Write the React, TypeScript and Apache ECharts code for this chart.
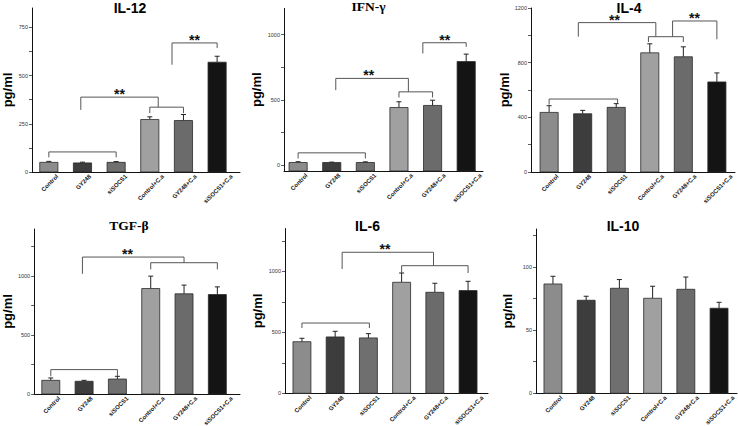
import React, { useEffect, useRef } from 'react';
import * as echarts from 'echarts';

// ---------- data ----------
const categories = ['Control', 'GY248', 'siSOCS1', 'Control+C.a', 'GY248+C.a', 'siSOCS1+C.a'];

const il12Mean = [50, 47, 50, 272, 267, 569];
const il12Err = [5, 4, 4, 14, 31, 31];
const ifnMean = [20, 20, 20, 441, 457, 793];
const ifnErr = [6, 3, 5, 44, 40, 57];
const il4Mean = [436, 426, 473, 872, 843, 659];
const il4Err = [49, 25, 27, 66, 73, 66];
const tgfMean = [116, 108, 127, 895, 850, 844];
const tgfErr = [20, 8, 23, 105, 74, 65];
const il6Mean = [423, 462, 454, 910, 828, 842];
const il6Err = [28, 46, 35, 76, 74, 76];
const il10Mean = [86.5, 73.6, 83.1, 75.2, 82.3, 67.3];
const il10Err = [6.1, 3.2, 6.9, 9.5, 9.7, 4.7];

// brackets: [fromCategory, toCategory, level, leftLegEnd, rightLegEnd]
const il12Brackets = [[0, 2, 104, 76, 76], [0.95, 3.25, 388, 322, 336], [3, 4, 336, 305, 305], [3.66, 5, 669, 556, 643]];
const ifnBrackets = [[0, 2, 94, 51, 51], [1.12, 3.28, 664, 574, 561], [3, 4, 561, 518, 518], [3.71, 5, 937, 855, 906]];
const il4Brackets = [[0, 2.04, 534, 493, 505], [0.87, 3.18, 1093, 990, 990], [2.96, 4, 990, 951, 951], [3.68, 5, 1105, 990, 971]];
const tgfBrackets = [[0, 2, 207, 150, 150], [0.95, 4, 1162, 1020, 1114], [3, 5, 1114, 1057, 1057]];
const il6Brackets = [[0, 2.03, 576, 535, 535], [1.21, 3.96, 1156, 1019, 1046], [3, 5, 1046, 986, 986]];
const il10Brackets: number[][] = [];

// significance marks: [category position, bracket level]
const il12Stars = [[2.1, 388], [4.33, 669]];
const ifnStars = [[2.1, 664], [4.36, 937]];
const il4Stars = [[1.95, 1093], [4.33, 1105]];
const tgfStars = [[2.3, 1162]];
const il6Stars = [[2.5, 1156]];
const il10Stars: number[][] = [];

// tick labels / tick marks
const il12TickLabels = [0, 250, 500, 750];
const il12Ticks = [0, 125, 250, 375, 500, 625, 750];
const ifnTickLabels = [0, 500, 1000];
const ifnTicks = [0, 250, 500, 750, 1000];
const il4TickLabels = [0, 400, 800, 1200];
const il4Ticks = [0, 200, 400, 600, 800, 1000, 1200];
const tgfTickLabels = [0, 500, 1000];
const tgfTicks = [0, 250, 500, 750, 1000, 1250];
const il6TickLabels = [0, 500, 1000];
const il6Ticks = [0, 250, 500, 750, 1000, 1250];
const il10TickLabels = [0, 50, 100];
const il10Ticks = [0, 25, 50, 75, 100, 125];

// ---------- style ----------
const barColors = ['#8c8c8c', '#3d3d3d', '#6f6f6f', '#a0a0a0', '#6b6b6b', '#141414'];
const SANS = '"Liberation Sans", Arial, sans-serif';
const SERIF = '"Liberation Serif", "Times New Roman", serif';
const LABEL_FS = 6;

const panels = [
  { title: 'IL-12', serif: false, mean: il12Mean, err: il12Err, brackets: il12Brackets, stars: il12Stars,
    yMin: 0, yMax: 850, labels: il12TickLabels, ticks: il12Ticks, xMin: -0.5, xMax: 5.68,
    grid: { left: 32, top: 8, width: 208, height: 164 }, tx: 130, ty: 7.5, nameGap: 18 },
  { title: 'IFN-γ', serif: true, mean: ifnMean, err: ifnErr, brackets: ifnBrackets, stars: ifnStars,
    yMin: -45, yMax: 1200, labels: ifnTickLabels, ticks: ifnTicks, xMin: -0.42, xMax: 5.5,
    grid: { left: 284, top: 8.4, width: 199, height: 162.6 }, tx: 368.5, ty: 6.5, nameGap: 21 },
  { title: 'IL-4', serif: false, mean: il4Mean, err: il4Err, brackets: il4Brackets, stars: il4Stars,
    yMin: 0, yMax: 1200, labels: il4TickLabels, ticks: il4Ticks, xMin: -0.54, xMax: 5.54,
    grid: { left: 531, top: 8, width: 204, height: 164 }, tx: 629, ty: 7.5, nameGap: 20 },
  { title: 'TGF-β', serif: true, mean: tgfMean, err: tgfErr, brackets: tgfBrackets, stars: tgfStars,
    yMin: 0, yMax: 1400, labels: tgfTickLabels, ticks: tgfTicks, xMin: -0.5, xMax: 5.68,
    grid: { left: 32, top: 229, width: 208, height: 165 }, tx: 129, ty: 225.5, nameGap: 18 },
  { title: 'IL-6', serif: false, mean: il6Mean, err: il6Err, brackets: il6Brackets, stars: il6Stars,
    yMin: 0, yMax: 1350, labels: il6TickLabels, ticks: il6Ticks, xMin: -0.51, xMax: 5.6,
    grid: { left: 285, top: 228.6, width: 203, height: 164.7 }, tx: 367.5, ty: 225.5, nameGap: 21 },
  { title: 'IL-10', serif: false, mean: il10Mean, err: il10Err, brackets: il10Brackets, stars: il10Stars,
    yMin: 0, yMax: 130, labels: il10TickLabels, ticks: il10Ticks, xMin: -0.51, xMax: 5.54,
    grid: { left: 536, top: 229, width: 201, height: 164.3 }, tx: 623, ty: 225.5, nameGap: 22 },
];

let measureCtx: CanvasRenderingContext2D | null = null;
function textWidth(t: string, font: string, fs: number) {
  if (!measureCtx) {
    const c = document.createElement('canvas');
    measureCtx = c.getContext('2d');
  }
  if (!measureCtx) return t.length * fs * 0.56;
  measureCtx.font = font;
  return measureCtx.measureText(t).width;
}

function buildOption() {
  const grids: any[] = [];
  const xAxes: any[] = [];
  const yAxes: any[] = [];
  const series: any[] = [];
  const graphics: any[] = [];

  panels.forEach((p, k) => {
    grids.push({ ...p.grid, containLabel: false });
    xAxes.push({
      gridIndex: k, type: 'value', min: p.xMin, max: p.xMax,
      axisLine: { show: true, onZero: false, lineStyle: { color: '#111', width: 1 } },
      axisTick: { show: false }, axisLabel: { show: false }, splitLine: { show: false },
    });
    yAxes.push({
      gridIndex: k, type: 'value', min: p.yMin, max: p.yMax,
      axisLine: { show: true, onZero: false, lineStyle: { color: '#111', width: 1 } },
      axisTick: { show: true, length: 3, inside: false, customValues: p.ticks, lineStyle: { color: '#333', width: 0.8 } },
      axisLabel: {
        show: true, customValues: p.labels, fontSize: 5.5, margin: 4, color: '#333', fontFamily: SANS,
        formatter: (v: number) => String(v),
      },
      splitLine: { show: false },
      name: 'pg/ml', nameLocation: 'middle', nameGap: p.nameGap,
      nameTextStyle: { fontSize: 13, fontWeight: 'bold', color: '#000', fontFamily: SANS },
    });

    graphics.push({
      type: 'text', x: p.tx, y: p.ty,
      style: {
        text: p.title, fill: '#000',
        fontSize: p.serif ? 13.5 : 14, fontWeight: 'bold', fontFamily: p.serif ? SERIF : SANS,
        align: 'center', verticalAlign: 'middle',
      },
    });

    const yMin = p.yMin;
    series.push({
      type: 'custom', xAxisIndex: k, yAxisIndex: k, clip: false, silent: true,
      data: p.mean.map((m, i) => [i, m, p.err[i]]),
      renderItem: (params: any, api: any) => {
        const i = api.value(0);
        const v = api.value(1);
        const e = api.value(2);
        const base = api.coord([i, yMin]);
        const top = api.coord([i, v]);
        const et = api.coord([i, v + e]);
        const bw = api.size([1, 0])[0] * 0.54;
        const label = categories[i];
        const font = `bold ${LABEL_FS}px ${SANS}`;
        const tw = textWidth(label, font, LABEL_FS);
        const half = ((tw + LABEL_FS * 0.9) * Math.SQRT1_2) / 2;
        return {
          type: 'group',
          children: [
            { type: 'line', shape: { x1: top[0], y1: top[1], x2: et[0], y2: et[1] }, style: { stroke: '#222', lineWidth: 1 } },
            { type: 'line', shape: { x1: et[0] - 2.5, y1: et[1], x2: et[0] + 2.5, y2: et[1] }, style: { stroke: '#222', lineWidth: 1 } },
            {
              type: 'rect', shape: { x: top[0] - bw / 2, y: top[1], width: bw, height: base[1] - top[1] },
              style: { fill: barColors[i], stroke: '#2a2a2a', lineWidth: 0.8 },
            },
            {
              type: 'text', x: base[0] + 1, y: base[1] + 1.5 + half, rotation: Math.PI / 4,
              style: {
                text: label, fill: '#111', fontSize: LABEL_FS, fontWeight: 'bold', fontFamily: SANS,
                align: 'center', verticalAlign: 'middle',
              },
            },
          ],
        };
      },
    });

    if (p.brackets.length) {
      series.push({
        type: 'custom', xAxisIndex: k, yAxisIndex: k, clip: false, silent: true,
        data: p.brackets,
        renderItem: (params: any, api: any) => {
          const x1 = api.value(0), x2 = api.value(1), y = api.value(2), l1 = api.value(3), l2 = api.value(4);
          const a = api.coord([x1, l1]);
          const b = api.coord([x1, y]);
          const c = api.coord([x2, y]);
          const d = api.coord([x2, l2]);
          return {
            type: 'polyline', shape: { points: [a, b, c, d] },
            style: { stroke: '#555', lineWidth: 1, fill: null },
          };
        },
      });
    }
    if (p.stars.length) {
      series.push({
        type: 'custom', xAxisIndex: k, yAxisIndex: k, clip: false, silent: true,
        data: p.stars,
        renderItem: (params: any, api: any) => {
          const pt = api.coord([api.value(0), api.value(1)]);
          return {
            type: 'text', x: pt[0], y: pt[1] + 4,
            style: {
              text: '**', fill: '#111', fontSize: 14, fontWeight: 'bold', fontFamily: SANS,
              align: 'center', verticalAlign: 'bottom',
            },
          };
        },
      });
    }
  });

  return {
    animation: false,
    backgroundColor: '#fff',
    grid: grids,
    xAxis: xAxes,
    yAxis: yAxes,
    series,
    graphic: graphics,
  };
}

export default function App() {
  const ref = useRef<HTMLDivElement>(null);
  useEffect(() => {
    if (!ref.current) return;
    const chart = echarts.init(ref.current, null, { renderer: 'svg' });
    chart.setOption(buildOption() as any);
    return () => chart.dispose();
  }, []);
  return <div ref={ref} style={{ position: 'absolute', left: 0, top: 0, width: 738, height: 426 }} />;
}
